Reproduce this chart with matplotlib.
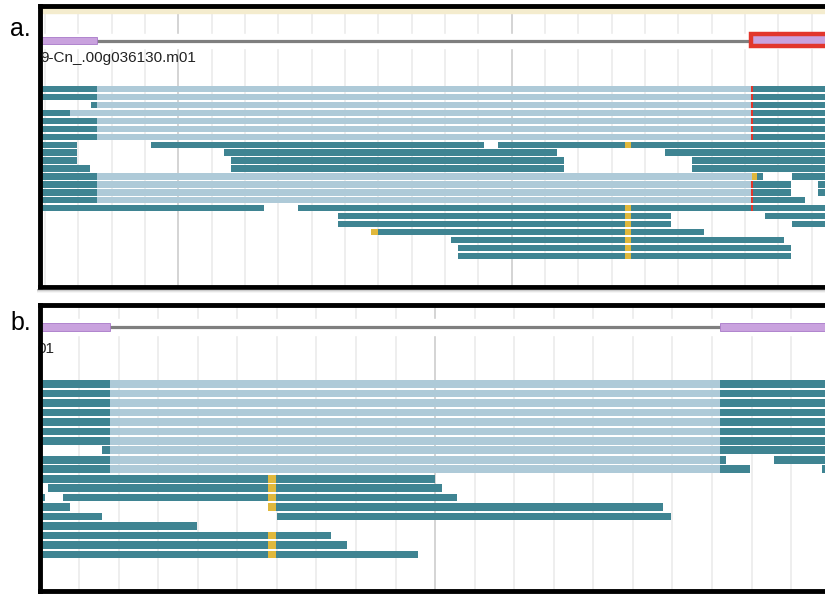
import matplotlib.pyplot as plt
from matplotlib.patches import Rectangle

# Colours used by the read viewer
TEAL = "#3f8492"
SPLIT = "#aecad8"
YELLOW = "#e0b83c"
RED = "#e2362c"
EXON = "#c9a2de"
EXON_EDGE = "#a878c8"
INTRON = "#7f7f7f"

W, H = 825, 594

# Transcript name shown above the reads (panel b only shows its tail)
gene_label = "9-Cn_.00g036130.m01"
gene_label_tail = "01"

# Panel a: gene model (exon start/end) and aligned reads.
# Each read row is a list of (start, end, kind): 'm' = aligned, 'n' = spliced gap.
a_exons = [(40, 97), (751, 830)]
a_intron = (40, 751)
a_rows = [
    [(40, 97, "m"), (97, 752, "n"), (752, 830, "m")],
    [(40, 97, "m"), (97, 752, "n"), (752, 830, "m")],
    [(91, 97, "m"), (97, 752, "n"), (752, 830, "m")],
    [(40, 70, "m"), (70, 752, "n"), (752, 830, "m")],
    [(40, 97, "m"), (97, 752, "n"), (752, 830, "m")],
    [(40, 97, "m"), (97, 752, "n"), (752, 830, "m")],
    [(40, 97, "m"), (97, 752, "n"), (752, 830, "m")],
    [(40, 77, "m"), (151, 484, "m"), (498, 830, "m")],
    [(40, 77, "m"), (224, 557, "m"), (665, 830, "m")],
    [(40, 77, "m"), (231, 564, "m"), (692, 830, "m")],
    [(40, 90, "m"), (231, 564, "m"), (692, 830, "m")],
    [(40, 97, "m"), (97, 752, "n"), (752, 763, "m"), (792, 830, "m")],
    [(40, 97, "m"), (97, 752, "n"), (752, 791, "m"), (818, 830, "m")],
    [(40, 97, "m"), (97, 752, "n"), (752, 791, "m"), (818, 830, "m")],
    [(40, 97, "m"), (97, 752, "n"), (752, 805, "m")],
    [(40, 264, "m"), (298, 830, "m")],
    [(338, 671, "m"), (765, 830, "m")],
    [(338, 671, "m"), (792, 830, "m")],
    [(371, 704, "m")],
    [(451, 784, "m")],
    [(458, 791, "m")],
    [(458, 791, "m")],
]
# Mismatch / junction marks: (row, x, width, colour)
a_marks = [(r, 625, 6, YELLOW) for r in (7, 15, 16, 17, 18, 19, 20, 21)]
a_marks += [(11, 752, 5, YELLOW), (18, 371, 7, YELLOW)]
a_marks += [(r, 750.5, 2.5, RED) for r in (0, 1, 2, 3, 4, 5, 6, 12, 13, 14, 15)]

# Panel b
b_exons = [(40, 110), (720, 830)]
b_intron = (40, 720)
b_rows = [
    [(40, 110, "m"), (110, 720, "n"), (720, 830, "m")],
    [(40, 110, "m"), (110, 720, "n"), (720, 830, "m")],
    [(40, 110, "m"), (110, 720, "n"), (720, 830, "m")],
    [(40, 110, "m"), (110, 720, "n"), (720, 830, "m")],
    [(40, 110, "m"), (110, 720, "n"), (720, 830, "m")],
    [(40, 110, "m"), (110, 720, "n"), (720, 830, "m")],
    [(40, 110, "m"), (110, 720, "n"), (720, 830, "m")],
    [(102, 110, "m"), (110, 720, "n"), (720, 830, "m")],
    [(40, 110, "m"), (110, 720, "n"), (720, 726, "m"), (774, 830, "m")],
    [(40, 110, "m"), (110, 720, "n"), (720, 750, "m"), (822, 830, "m")],
    [(40, 435, "m")],
    [(48, 442, "m")],
    [(40, 45, "m"), (63, 457, "m")],
    [(40, 70, "m"), (268, 663, "m")],
    [(40, 102, "m"), (277, 671, "m")],
    [(40, 197, "m")],
    [(40, 331, "m")],
    [(40, 347, "m")],
    [(40, 418, "m")],
]
b_marks = [(r, 268, 8, YELLOW) for r in (10, 11, 12, 13, 16, 17, 18)]


def panel(top, bottom):
    ax = fig.add_axes([39.5 / W, 1 - bottom / H, (830 - 39.5) / W, (bottom - top) / H])
    ax.set_xlim(39.5, 830)
    ax.set_ylim(bottom, top)
    ax.set_xticks([])
    ax.set_yticks([])
    for s in ax.spines.values():
        s.set_linewidth(3.5)
        s.set_color("black")
    return ax


def grid(ax, major, step, top, bottom):
    xs = [major + step * k for k in range(-10, 25)]
    for i, x in enumerate(xs):
        dark = (i - 10) % 10 == 0
        ax.vlines(x, top, bottom, color="#cdcdcd" if dark else "#ebebeb",
                  lw=1.2, zorder=0)


def gene(ax, exons, intron, y, h):
    ax.axhspan(y - h, y + h, color="white", zorder=0.5)
    ax.hlines(y, intron[0], intron[1], color=INTRON, lw=2.3, zorder=1)
    for x0, x1 in exons:
        ax.add_patch(Rectangle((x0, y - h / 2), x1 - x0, h, facecolor=EXON,
                               edgecolor=EXON_EDGE, lw=0.6, zorder=2))


def reads(ax, rows, marks, y0, pitch, h):
    for i, row in enumerate(rows):
        y = y0 + i * pitch
        for x0, x1, kind in row:
            ax.barh(y, x1 - x0, left=x0, height=h, color=TEAL if kind == "m" else SPLIT,
                    linewidth=0, zorder=2)
    for r, x, w, c in marks:
        ax.barh(y0 + r * pitch, w, left=x, height=h, color=c, linewidth=0, zorder=3)


fig = plt.figure(figsize=(W / 100, H / 100), dpi=100)

# panel a
ax_a = panel(5.5, 287)
grid(ax_a, 178.3, 33.33, 5.5, 287)
ax_a.axhspan(5.5, 12.5, color="#f4ecce", zorder=0.6)
gene(ax_a, [a_exons[0]], a_intron, 40.5, 7)
ax_a.add_patch(Rectangle((a_exons[1][0], 34), a_exons[1][1] - a_exons[1][0], 12,
                         facecolor=EXON, edgecolor=RED, lw=3.2, zorder=2))
ax_a.text(40.5, 62, gene_label, fontsize=11, family="Liberation Sans",
          color="#222222", va="baseline", zorder=3)
reads(ax_a, a_rows, a_marks, 89, 7.95, 6.3)

# panel b: the name's tail peeks out from under the left border
ax_b = panel(305, 590.5)
grid(ax_b, 435.1, 39.56, 305, 590.5)
gene(ax_b, b_exons, b_intron, 327, 8)
ax_b.text(37.5, 353, gene_label_tail, fontsize=11, family="Liberation Sans",
          color="#222222", va="baseline", zorder=1.5)
reads(ax_b, b_rows, b_marks, 384, 9.47, 7.6)

# soft shadow under panel a
for k, a in enumerate([0.45, 0.3, 0.15, 0.06]):
    fig.patches.append(Rectangle((37 / W, 1 - (290 + k) / H), 1, 1 / H,
                                 transform=fig.transFigure, color="#555555",
                                 alpha=a, lw=0))

fig.text(10 / W, 1 - 36 / H, "a.", fontsize=18, family="Liberation Sans", va="baseline")
fig.text(10 / W, 1 - 330 / H, "b.", fontsize=18, family="Liberation Sans", va="baseline")

fig.savefig("out.png", dpi=100)
